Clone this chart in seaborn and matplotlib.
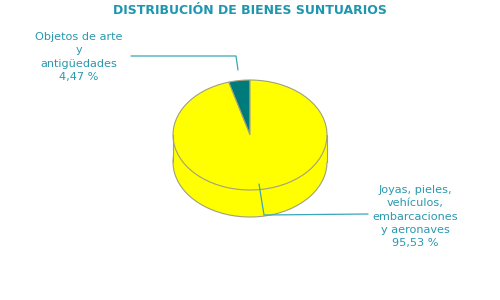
import matplotlib
matplotlib.use("Agg")
import matplotlib.pyplot as plt
import seaborn as sns
import numpy as np

categories = ["Objetos de arte\ny\nantigüedades", "Joyas, pieles,\nvehículos,\nembarcaciones\ny aeronaves"]
values = [4.47, 95.53]
value_labels = ["4,47 %", "95,53 %"]
colors = ["#007B7B", "#FFFF00"]
title = "DISTRIBUCIÓN DE BIENES SUNTUARIOS"

sns.set_theme(style="white")
plt.rcParams['font.family'] = ['DejaVu Sans']

W, H = 500, 300
fig = plt.figure(figsize=(W / 100, H / 100), dpi=100)
fig.patch.set_facecolor("white")

# pie geometry in pixels
cx, cy, rx, ry, depth = 250, 135, 77, 55, 27
ax = fig.add_axes([0, 0, 1, 1])
edge = "#A0A080"

d = depth / ry
# bottom (side) layer
ax.pie(values, colors=colors, startangle=90, counterclock=True, center=(0, -d), radius=1,
       wedgeprops=dict(edgecolor=edge, linewidth=0.8))
ax.fill_between([-1, 1], [-d, -d], [0, 0], color=colors[1], linewidth=0)
ax.plot([-1, -1], [-d, 0], color=edge, lw=0.8)
ax.plot([1, 1], [-d, 0], color=edge, lw=0.8)
# top layer
ax.pie(values, colors=colors, startangle=90, counterclock=True, center=(0, 0), radius=1,
       wedgeprops=dict(edgecolor=edge, linewidth=0.8))
ax.set_aspect("auto")
ax.set_xlim(-cx / rx, (W - cx) / rx)
ax.set_ylim(-(H - cy) / ry, cy / ry)
ax.axis("off")

# overlay in pixel coordinates for leaders and text
ov = fig.add_axes([0, 0, 1, 1], facecolor="none")
ov.set_xlim(0, W)
ov.set_ylim(H, 0)
ov.axis("off")
lc = "#3AA6B9"
tc = "#2A98AE"
ov.plot([131, 236, 238], [56, 56, 70], color=lc, lw=0.9)
ov.plot([259, 264, 368], [184, 215, 214], color=lc, lw=0.9)

ov.text(79, 32, categories[0] + "\n" + value_labels[0], ha="center", va="top",
        fontsize=8.1, color=tc, linespacing=1.42)
ov.text(415, 185, categories[1] + "\n" + value_labels[1], ha="center", va="top",
        fontsize=8.1, color=tc, linespacing=1.42)
ov.text(250, 13.5, title, ha="center", va="baseline", fontsize=9, fontweight="bold", color="#1E96AF")

fig.savefig("out.png", dpi=100, facecolor="white")
